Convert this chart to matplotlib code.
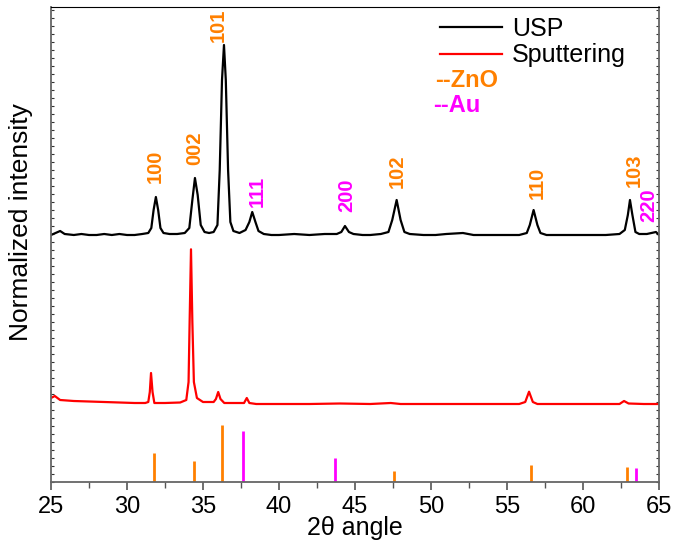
import matplotlib
matplotlib.use("Agg")
import matplotlib.pyplot as plt
from matplotlib.ticker import MultipleLocator
import numpy as np

plt.rcParams['font.family'] = ['Liberation Sans', 'DejaVu Sans']

# traced XRD patterns (2theta, intensity incl. vertical offset)
usp_2theta = [25.0, 25.3, 25.6, 25.9, 26.5, 27.0, 27.5, 28.0, 28.5, 29.0, 29.5, 30.0, 30.5, 31.0,
              31.4, 31.6, 31.75, 31.9, 32.05, 32.2, 32.4, 32.8, 33.3, 33.8, 34.1, 34.3, 34.47,
              34.65, 34.85, 35.1, 35.4, 35.7, 35.95, 36.1, 36.25, 36.38, 36.5, 36.65, 36.8, 37.0,
              37.4, 37.8, 38.05, 38.24, 38.45, 38.65, 39.0, 39.5, 40.0, 41.0, 42.0, 43.0, 43.8,
              44.1, 44.34, 44.6, 44.9, 45.5, 46.0, 46.7, 47.2, 47.45, 47.74, 48.0, 48.25, 48.6,
              49.5, 50.3, 51.0, 52.1, 52.8, 53.5, 54.3, 55.0, 55.8, 56.3, 56.5, 56.75, 57.0, 57.2,
              57.6, 58.5, 59.5, 60.5, 61.5, 62.4, 62.75, 62.95, 63.09, 63.25, 63.45, 63.7, 64.2,
              64.5, 64.8, 65.0]
usp_int = [247, 249, 251, 248, 247, 248, 247, 247, 248, 247, 248, 247, 247, 248,
           249, 254, 272, 285, 272, 254, 249, 248, 248, 249, 254, 282, 304,
           287, 257, 250, 249, 250, 257, 312, 402, 437, 402, 312, 260, 251,
           249, 252, 260, 270, 260, 251, 248, 247, 247, 248, 247, 248, 248,
           250, 256, 250, 248, 247, 247, 248, 250, 262, 282, 262, 250, 248,
           247, 247, 248, 249, 247, 247, 247, 247, 247, 249, 257, 272, 257, 249,
           247, 247, 247, 247, 247, 248, 252, 267, 282, 267, 250, 248, 248,
           249, 250, 247]

sput_2theta = [25.0, 25.25, 25.6, 26.5, 27.5, 28.5, 29.5, 30.5, 31.2, 31.4, 31.5, 31.58, 31.68,
               31.8, 32.5, 33.5, 33.9, 34.05, 34.12, 34.21, 34.3, 34.4, 34.6, 35.0, 35.7, 35.85,
               36.0, 36.15, 36.4, 37.0, 37.7, 37.88, 38.05, 38.5, 40.0, 42.0, 44.0, 46.0, 47.35,
               48.0, 50.0, 52.0, 54.0, 55.8, 56.2, 56.45, 56.7, 57.0, 59.0, 61.0, 62.4, 62.7,
               63.0, 64.0, 65.0]
sput_int = [84, 86, 82, 81, 80.5, 80, 79.5, 79, 79, 80, 90, 109, 90,
            79, 79, 79.5, 82, 100, 160, 232.7, 160, 100, 84, 80, 80, 83,
            90, 83, 79, 79, 79, 84, 79, 78, 78, 78, 78.5, 78, 79,
            78, 78, 78, 78, 78, 80, 90.3, 80, 78, 78, 78, 78, 81,
            78.5, 78, 78]

# reference stick patterns
zno_pos = [31.78, 34.39, 36.25, 47.57, 56.58, 62.87]
zno_h = [29, 21, 56.6, 11, 17, 15]
au_pos = [37.6, 43.7, 63.48]
au_h = [50.6, 24, 14]

# peak labels: text, x, y (bottom of text), phase
lab_text = ["100", "002", "101", "111", "200", "102", "110", "103", "220"]
lab_x = [31.88, 34.44, 36.02, 38.55, 44.47, 47.76, 57.0, 63.36, 64.34]
lab_y = [299, 317, 440, 275, 270, 294, 283, 295, 260]
lab_phase = ["ZnO", "ZnO", "ZnO", "Au", "Au", "ZnO", "ZnO", "ZnO", "Au"]

orange = "#FF8000"
magenta = "#FF00FF"
phase_col = {"ZnO": orange, "Au": magenta}

fig = plt.figure(figsize=(6.86, 5.43), dpi=100)
ax = fig.add_axes([51/686, 1-482/543, 608/686, 475/543])

ax.plot(usp_2theta, usp_int, color="black", lw=1.6, label="USP")
ax.plot(sput_2theta, sput_int, color="red", lw=1.6, label="Sputtering")
ax.vlines(zno_pos, 0, zno_h, color=orange, lw=2.0)
ax.vlines(au_pos, 0, au_h, color=magenta, lw=2.0)

for t, x, y, p in zip(lab_text, lab_x, lab_y, lab_phase):
    ax.text(x, y, t, rotation=90, ha="center", va="bottom", fontsize=14.5,
            fontweight="bold", color=phase_col[p])

ax.set_xlim(25, 65)
ax.set_ylim(0, 475)
ax.xaxis.set_major_locator(MultipleLocator(5))
ax.xaxis.set_minor_locator(MultipleLocator(2.5))
ax.yaxis.set_major_locator(MultipleLocator(8))
ax.tick_params(axis="x", which="major", direction="out", length=6, width=1.2,
               labelsize=17, pad=4, color="#555555")
ax.tick_params(axis="x", which="minor", direction="out", length=4, width=1.0, color="#555555")
ax.tick_params(axis="y", which="major", direction="in", length=2, width=0.8,
               left=True, right=True, labelleft=False, color="#333333")
for s in ["left", "right", "bottom"]:
    ax.spines[s].set_color("#666666")
    ax.spines[s].set_linewidth(1.3)
ax.spines["top"].set_color("black")

ax.set_xlabel("2θ angle", fontsize=18, labelpad=-1)
ax.set_ylabel("Normalized intensity", fontsize=19)
ax.yaxis.set_label_coords(-0.03, 0.547)

leg = ax.legend(loc="upper left", bbox_to_anchor=(0.631, 0.99), frameon=False, fontsize=18,
                handlelength=2.5, handletextpad=0.4, borderpad=0.2, labelspacing=0.1,
                borderaxespad=0)
ax.text(0.632, 0.846, "--ZnO", transform=ax.transAxes, fontsize=17, fontweight="bold",
        color=orange, va="center", ha="left")
ax.text(0.629, 0.792, "--Au", transform=ax.transAxes, fontsize=17, fontweight="bold",
        color=magenta, va="center", ha="left")

fig.savefig("out.png", dpi=100)
